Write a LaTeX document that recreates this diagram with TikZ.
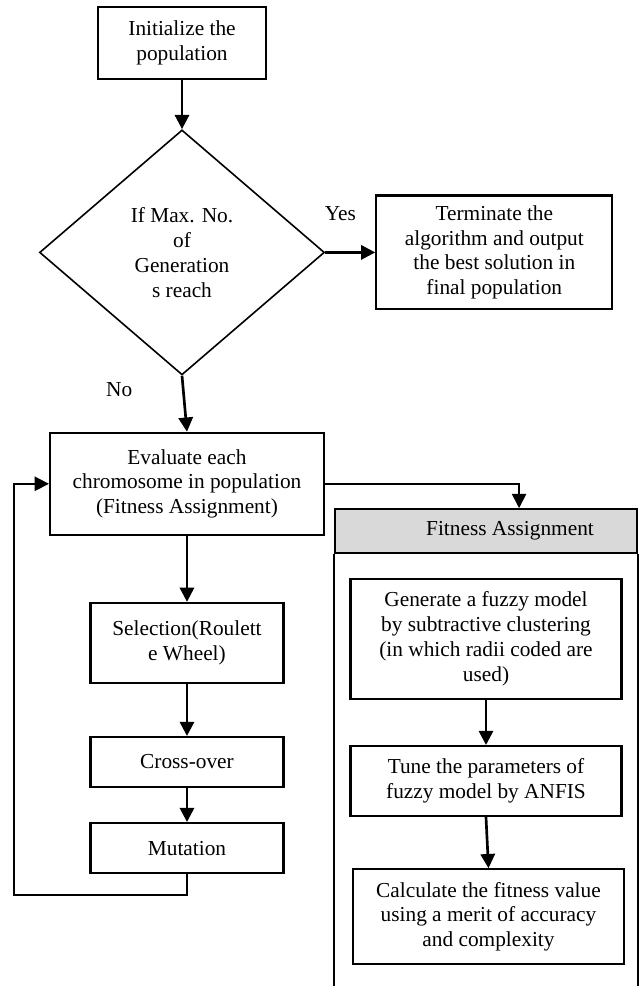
\documentclass[tikz,border=0pt]{standalone}
\usepackage{fontspec}
\setmainfont{Liberation Serif}
\usetikzlibrary{shapes,arrows.meta,positioning}
\tikzset{
  box/.style={rectangle, draw=black, line width=1.2pt, align=center, inner sep=2pt},
  decision/.style={diamond, draw=black, line width=0.9pt, align=center, inner sep=0pt, minimum width=160.3pt, minimum height=137.8pt},
  connect/.style={-{Triangle[length=8pt,width=8pt]}, line width=1.5pt},
  backline/.style={-{Triangle[length=8pt,width=8pt]}, line width=1pt},
  head/.style={rectangle, draw=black, line width=1pt, fill=black!15, minimum width=169.9pt, minimum height=24.75pt}
}

\begin{document}
\begin{tikzpicture}[x=0.5625pt, y=-0.5625pt, font=\fontsize{12pt}{14pt}\selectfont]
  \useasboundingbox (0,0) rectangle (641,986);
  % GA loop
  \node[box, minimum width=94.5pt, minimum height=40.5pt] (Init) at (182,43) {Initialize the\\population};
  \node[decision] (Dec) [below=27.6pt of Init] {If Max. No.\\of\\Generation\\s reach};
  \node[box, minimum width=132.75pt, minimum height=64.1pt] (Term) [right=28.1pt of Dec] {Terminate the\\algorithm and output\\the best solution in\\final population};
  \node[box, minimum width=154.1pt, minimum height=57.4pt] (Eval) [below=31.5pt of Dec, xshift=2.8pt] {Evaluate each\\chromosome in population\\(Fitness Assignment)};
  \node[box, minimum width=108.6pt, minimum height=45pt] (Sel) [below=37.1pt of Eval] {Selection(Roulett\\e Wheel)};
  \node[box, minimum width=108.6pt, minimum height=28.1pt] (Cross) [below=29.25pt of Sel] {Cross-over};
  \node[box, minimum width=108.6pt, minimum height=28.1pt] (Mut) [below=19.1pt of Cross] {Mutation};
  \coordinate (Back) at (14,895);

  % fitness assignment panel
  \node[head] (FA) at (486,531) {};
  \node (FAtext) at ([xshift=13.5pt]FA.center) {Fitness Assignment};
  \node[box, minimum width=152.4pt, minimum height=67.5pt] (Gen) [below=13.5pt of FA] {Generate a fuzzy model\\by subtractive clustering\\(in which radii coded are\\used)};
  \node[box, minimum width=152.4pt, minimum height=39.4pt] (Tune) [below=25.3pt of Gen] {Tune the parameters of\\fuzzy model by ANFIS};
  \node[box, minimum width=152.4pt, minimum height=53.4pt] (Calc) [below=28.7pt of Tune, xshift=1.4pt] {Calculate the fitness value\\using a merit of accuracy\\and complexity};
  \coordinate (Bot) at (0,986);
  \draw[line width=1pt] (FA.south west) -- (FA.south west |- Bot);
  \draw[line width=1pt] (FA.south east) -- (FA.south east |- Bot);

  \path (Init) edge[connect] (Dec);
  \path (Dec.east) edge[connect] node[pos=0.3, yshift=22pt] {Yes} (Term.west);
  \path (Dec.south) edge[connect] node[pos=0.25, xshift=-36pt] {No} (Eval.north);
  \path (Eval) edge[connect] (Sel);
  \path (Sel) edge[connect] (Cross);
  \path (Cross) edge[connect] (Mut);
  \draw[backline] (Mut.south) |- (Back) |- (Eval.west);
  \draw[backline] (Eval.east) -| ([xshift=18.6pt]FA.north);
  \path (Gen) edge[connect] (Tune);
  \path (Tune.south) edge[connect] (Calc.north);

\end{tikzpicture}
\end{document}
